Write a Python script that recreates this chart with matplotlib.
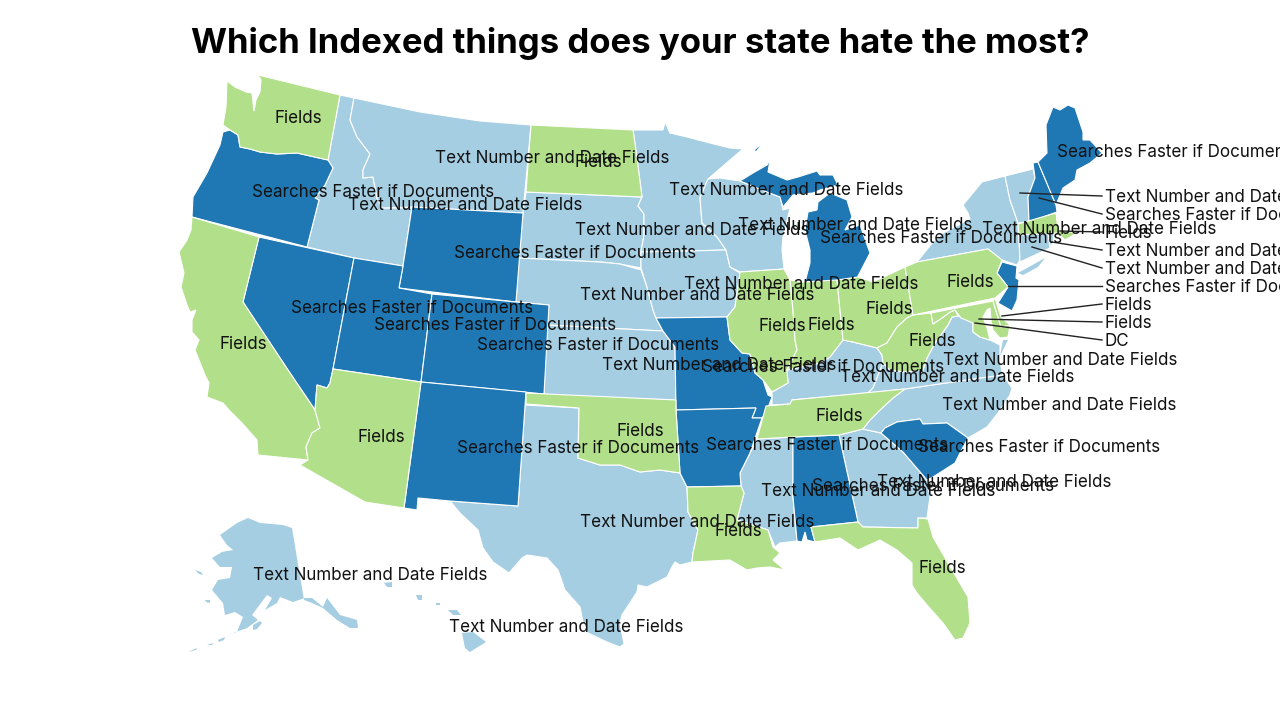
#!/usr/bin/env python
# -*- coding: utf-8 -*-

import matplotlib
matplotlib.use('Agg')
import matplotlib.pyplot as plt

# state outlines in pixels
WA = [(258,75),(340,95),(328,160),(297,153),(277,154),(260,152),(250,149),(240,147),(238,135),(230,130),(223,125),(226,107),(227,81),(235,87),(246,92),(252,93),(254,111),(256,100),(260,92),(261,80)]
OR = [(223,132),(230,130),(238,135),(240,147),(250,149),(260,152),(277,154),(297,153),(328,160),(333,168),(325,185),(315,198),(319,200),(307,247),(192,217),(193,197),(207,173),(220,145)]
CA = [(192,217),(259,237),(243,302),(288,370),(315,410),(320,428),(312,433),(306,447),(308,460),(258,455),(257,440),(242,423),(229,410),(223,403),(207,397),(209,383),(205,375),(195,350),(199,340),(192,332),(192,320),(196,310),(190,312),(187,305),(181,287),(184,273),(179,252),(187,240),(191,230)]
NV = [(259,237),(354,258),(333,369),(330,383),(327,388),(317,385),(315,410),(288,370),(243,302)]
ID = [(340,95),(354,98),(350,120),(357,137),(370,154),(363,170),(363,178),(373,177),(377,198),(382,208),(412,208),(403,266),(354,258),(307,247),(319,200),(315,198),(325,185),(333,168),(328,160)]
MT = [(354,98),(420,112),(480,121),(531,125),(523,213),(412,207),(382,208),(377,198),(373,177),(363,178),(363,170),(370,154),(357,137),(350,120)]
WY = [(412,207),(523,213),(516,302),(399,288),(403,266)]
UT = [(354,258),(403,266),(399,288),(432,294),(421,382),(333,369)]
CO = [(432,294),(516,302),(549,305),(544,394),(421,382)]
AZ = [(333,369),(421,382),(404,508),(365,502),(300,465),(308,460),(306,447),(312,433),(320,428),(315,410),(317,385),(327,388),(330,383)]
NM = [(421,382),(526,392),(518,506),(450,501),(418,498),(417,510),(404,508)]
ND = [(531,125),(633,130),(636,150),(642,197),(526,192)]
SD = [(526,192),(642,197),(638,206),(644,214),(644,235),(641,252),(641,268),(620,264),(600,262),(519,258),(523,213)]
NE = [(519,258),(600,262),(620,264),(641,270),(647,287),(653,310),(656,318),(663,331),(546,325),(549,305),(516,302)]
KS = [(546,325),(663,331),(675,347),(676,400),(544,396)]
OK = [(526,393),(676,400),(676,410),(680,473),(660,470),(640,472),(620,465),(600,465),(578,458),(579,408),(526,404)]
TX = [(525,405),(579,408),(578,458),(600,465),(620,465),(640,472),(660,470),(680,473),(687,487),(688,512),(698,530),(693,553),(692,562),(680,565),(675,562),(672,567),(667,577),(647,587),(638,585),(637,592),(622,615),(620,623),(624,644),(620,647),(607,642),(588,633),(583,622),(580,607),(565,590),(558,570),(547,558),(527,555),(522,558),(509,573),(493,562),(483,548),(478,530),(460,513),(450,501),(518,506)]
MN = [(633,130),(663,130),(665,122),(670,133),(687,137),(710,143),(730,148),(743,149),(730,160),(708,179),(700,198),(702,223),(717,237),(726,250),(687,251),(641,252),(644,235),(644,214),(638,206),(642,197)]
IA = [(641,252),(687,251),(726,250),(730,267),(740,273),(735,307),(727,317),(656,318),(653,310),(647,287),(641,268)]
MO = [(656,318),(727,317),(730,340),(742,353),(750,354),(755,373),(763,380),(768,395),(772,397),(766,413),(762,418),(752,418),(756,408),(676,410),(675,347),(663,331)]
AR = [(676,410),(756,408),(752,418),(762,418),(750,453),(740,473),(741,486),(687,487),(680,473)]
LA = [(687,487),(741,486),(744,493),(737,520),(768,530),(773,547),(780,553),(773,560),(785,570),(770,567),(757,568),(747,570),(730,560),(692,562),(693,553),(698,530),(688,512)]
WI = [(708,179),(720,178),(740,181),(767,192),(780,197),(783,210),(790,208),(783,237),(782,250),(784,269),(740,272),(730,267),(726,250),(717,237),(702,223),(700,198)]
MI_UP = [(740,181),(753,173),(767,165),(770,160),(768,172),(787,180),(798,177),(817,171),(820,175),(833,175),(838,185),(820,190),(813,193),(793,195),(783,207),(780,197),(767,192)]
MI_LP = [(805,282),(810,263),(810,250),(805,230),(808,212),(817,210),(818,202),(830,193),(847,200),(852,217),(845,230),(860,225),(870,253),(857,278),(827,282)]
IL = [(740,272),(784,269),(790,280),(793,310),(795,340),(797,350),(787,370),(788,383),(772,392),(763,380),(755,373),(750,354),(742,353),(730,340),(727,317),(735,307)]
IN = [(790,280),(803,282),(837,280),(843,340),(830,357),(820,363),(787,370),(797,350),(795,340),(793,310)]
OH = [(837,280),(858,277),(873,282),(905,267),(913,315),(907,318),(897,327),(887,343),(877,348),(853,342),(843,340)]
KY = [(772,392),(788,383),(787,370),(820,363),(830,357),(843,340),(853,342),(877,348),(882,355),(883,363),(873,388),(868,393),(792,400),(790,404),(772,405)]
TN = [(757,439),(766,406),(790,404),(792,400),(905,389),(893,398),(880,410),(870,420),(863,429),(839,435),(793,437)]
MS = [(740,473),(750,453),(757,439),(793,437),(793,497),(797,541),(780,543),(775,547),(768,530),(737,520),(744,493),(741,486)]
AL = [(793,437),(839,435),(858,522),(811,527),(815,542),(807,540),(805,532),(802,542),(797,541),(793,497)]
GA = [(839,435),(863,429),(881,433),(903,452),(927,480),(930,497),(927,518),(918,518),(918,528),(863,527),(858,522)]
FL = [(811,527),(858,522),(863,527),(918,528),(918,518),(928,519),(933,537),(948,563),(968,597),(970,623),(963,638),(955,640),(943,623),(927,605),(917,593),(912,585),(912,563),(897,550),(880,540),(858,550),(840,538),(815,542)]
SC = [(881,433),(885,428),(897,422),(920,419),(923,424),(947,423),(968,438),(960,453),(955,463),(933,477),(927,480),(903,452)]
NC = [(863,429),(870,420),(880,410),(893,398),(905,389),(980,378),(1003,375),(1012,388),(1010,395),(998,413),(987,427),(968,438),(947,423),(923,424),(920,419),(897,422),(885,428),(881,433)]
VA = [(868,393),(873,388),(883,363),(890,370),(905,372),(923,370),(927,358),(935,343),(948,325),(952,317),(958,316),(963,318),(973,323),(973,332),(980,337),(990,340),(1000,345),(1000,362),(1003,375),(980,378),(905,389)]
VA_SHORE = [(1008,340),(1003,340),(1000,356)]
WV = [(913,315),(931,313),(933,324),(942,318),(950,312),(955,310),(958,316),(952,317),(948,325),(935,343),(927,358),(923,370),(905,372),(890,370),(883,363),(882,355),(877,348),(887,343),(897,327),(907,318)]
MD = [(931,313),(993,301),(1001,327),(1010,325),(1008,337),(1000,338),(993,330),(991,320),(990,308),(987,310),(983,317),(987,328),(990,340),(980,337),(973,332),(973,323),(961,318),(955,310),(950,312),(942,318),(933,324)]
DE = [(993,301),(995,298),(1001,317),(1010,325),(1001,327)]
PA = [(905,267),(917,262),(988,249),(1002,260),(997,273),(1008,287),(995,298),(913,315)]
NJ = [(1002,262),(1017,266),(1016,278),(1019,280),(1017,300),(1012,311),(998,303),(1008,287),(997,273)]
NY = [(917,262),(933,242),(943,233),(970,219),(968,213),(963,205),(982,182),(1005,176),(1010,200),(1018,223),(1020,260),(1017,265),(1002,260),(988,249)]
NY_LI = [(1018,273),(1045,258),(1038,267),(1023,275)]
VT = [(1005,176),(1033,169),(1035,178),(1028,197),(1029,222),(1018,223),(1010,200)]
NH = [(1033,163),(1038,162),(1056,205),(1057,212),(1029,222),(1028,197),(1035,178)]
ME = [(1038,162),(1047,153),(1046,125),(1053,107),(1060,110),(1068,105),(1075,108),(1083,132),(1083,140),(1090,140),(1102,153),(1090,163),(1077,170),(1075,180),(1063,188),(1056,205)]
MA = [(1018,224),(1056,213),(1058,230),(1077,233),(1065,240),(1058,233),(1019,235)]
CT = [(1019,235),(1048,233),(1050,248),(1020,262)]
RI = [(1049,233),(1054,234),(1053,243),(1050,247)]
AK = [(292,528),(283,525),(260,523),(248,518),(237,523),(230,528),(220,535),(227,545),(233,550),(222,552),(212,558),(220,567),(232,567),(230,578),(218,580),(212,590),(223,603),(225,615),(235,612),(243,617),(237,632),(228,635),(247,628),(258,620),(252,615),(267,595),(272,598),(265,610),(277,603),(280,597),(293,602),(305,598),(312,598),(323,607),(327,598),(340,615),(357,620),(358,628),(350,628),(337,620),(323,608),(312,603),(304,600)]
AK_KODIAK = [(253,625),(260,621),(262,623),(257,629),(253,630)]
AK_ALEUT1 = [(218,640),(225,637),(224,640),(219,642)]
AK_ALEUT2 = [(207,645),(213,643),(212,645)]
AK_ALEUT3 = [(188,652),(197,648),(196,650)]
AK_NUNIVAK = [(205,600),(210,600),(210,603),(206,602)]
AK_ISLE = [(195,570),(201,572),(203,575),(199,574)]
HI_BIG = [(462,633),(473,632),(486,642),(470,652),(465,648)]
HI_MAUI = [(448,610),(457,610),(461,615),(453,615)]
HI_OAHU = [(416,595),(422,595),(422,600),(418,600)]
HI_KAUAI = [(384,583),(392,582),(392,587),(387,587)]
HI_MOLOKAI = [(436,603),(440,603),(440,605),(436,605)]
MI_ISLE = [(755,150),(760,146),(756,151)]

light = [ID, MT, SD, NE, KS, TX, MN, IA, WI, KY, MS, GA, NC, VA, NY, VT, CT, RI]
light_noedge = [NY_LI, VA_SHORE, AK, AK_KODIAK, AK_ALEUT1, AK_ALEUT2, AK_ALEUT3, AK_NUNIVAK, AK_ISLE, HI_BIG, HI_MAUI, HI_OAHU, HI_KAUAI, HI_MOLOKAI]
dark = [OR, NV, WY, UT, CO, NM, MO, AR, AL, SC, NJ, NH, ME, MI_UP, MI_LP]
dark_noedge = [MI_ISLE]
green = [WA, CA, AZ, ND, OK, LA, IL, IN, OH, TN, FL, WV, MD, DE, PA, MA]

TXT = 'Text Number and Date Fields'
SRC = 'Searches Faster if Documents'
FLD = 'Fields'

# labels sitting on the map, centred
map_labels = [FLD,TXT,FLD,SRC,TXT,SRC,TXT,TXT,SRC,TXT,TXT,SRC,FLD,TXT,TXT,FLD,SRC,SRC,FLD,FLD,FLD,SRC,FLD,TXT,SRC,TXT,TXT,TXT,FLD,FLD,FLD,SRC,SRC,SRC,TXT,SRC,TXT,TXT,FLD,FLD,TXT,TXT]
map_x = [298,552,598,1178,786,373,465,855,941,692,1099,575,970,801,697,889,412,495,782,831,243,598,932,719,823,1060,957,1059,839,640,381,827,1039,578,994,933,878,697,738,942,370,566]
map_y = [117,157,161,151,189,191,204,224,237,229,228,252,281,283,294,308,307,324,325,324,343,344,340,364,366,359,376,404,415,430,436,444,446,447,481,485,490,521,530,567,574,626]

# labels in the right column with a leader line
side_labels = [TXT,SRC,FLD,TXT,TXT,SRC,FLD,FLD,'DC']
side_y = [196,214,232,250,268,286,304,322,340]
line_x0 = [1020,1039,1060,1052,1032,1008,1002,979,975]
line_y0 = [193,198,231,242,247,286,316,319,323]

ftSize = 12.25

fig = plt.figure(figsize=(12.8, 7.2), dpi=100)
ax = fig.add_axes([0, 0, 1, 1])
ax.set_xlim(0, 1280)
ax.set_ylim(720, 0)
ax.axis('off')

for group, color, ew in [(light, '#a6cee3', 0.8), (light_noedge, '#a6cee3', 0), (dark, '#1f78b4', 0.8), (dark_noedge, '#1f78b4', 0), (green, '#b2df8a', 0.8)]:
    for shape in group:
        ax.fill([p[0] for p in shape], [p[1] for p in shape], facecolor=color, edgecolor='white', linewidth=ew)

for i in range(len(side_labels)):
    ax.plot([line_x0[i], 1102], [line_y0[i], side_y[i]], color='#222222', linewidth=1.0)
    ax.text(1105, side_y[i] + 1.5, side_labels[i], fontsize=ftSize, family='Inter', color='#111111', va='center', ha='left')

for i in range(len(map_labels)):
    ax.text(map_x[i], map_y[i] + 1.5, map_labels[i], fontsize=ftSize, family='Inter', color='#111111', va='center', ha='center')

ax.text(640, 43, 'Which Indexed things does your state hate the most?', fontsize=25, family='Inter', fontweight='bold', color='black', va='center', ha='center')

plt.savefig('out.png', dpi=100)
